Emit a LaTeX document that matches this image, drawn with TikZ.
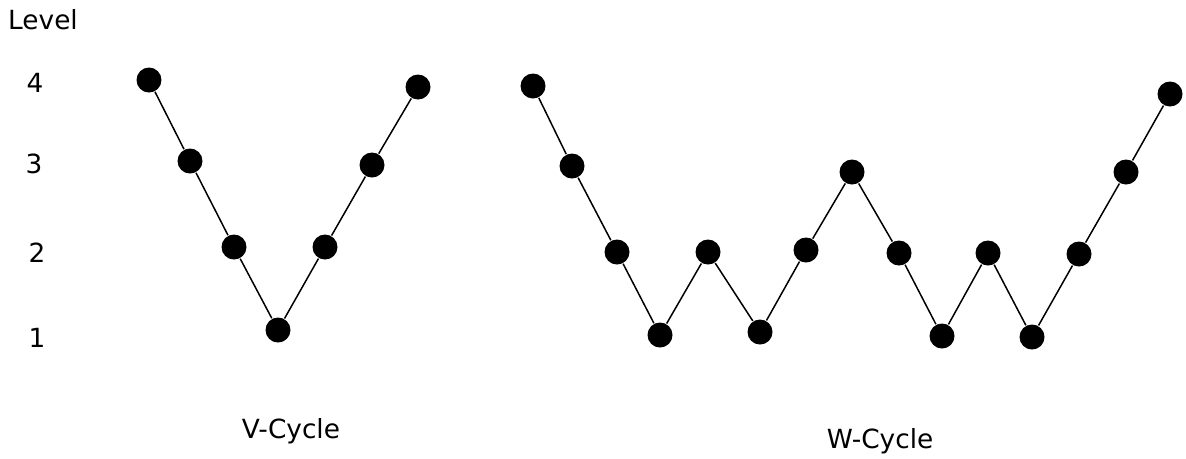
\documentclass[tikz,border=0pt]{standalone}
\usepackage{fontspec}
\setmainfont{DejaVu Sans}
\usetikzlibrary{positioning}

\begin{document}
\begin{tikzpicture}[
  x=0.02cm, y=-0.02cm,
  dot/.style={circle,fill=black,inner sep=0pt,minimum size=0.5cm},
  lvl/.style={anchor=base},
  font=\fontsize{15}{18}\selectfont,
  line width=0.85pt
]
\useasboundingbox (0,0) rectangle (1186,458);
% level labels
\node[lvl] (level) at (43,29) {Level};
\node[lvl] (l4) at (35,92) {4};
\node[lvl] (l3) at (34,173) {3};
\node[lvl] (l2) at (37,262) {2};
\node[lvl] (l1) at (37,347) {1};
% V-cycle
\node[dot] (v1) at (149,80) {};
\node[dot] (v2) at (190,161) {};
\node[dot] (v3) at (234,247) {};
\node[dot] (v4) at (278,330) {};
\node[dot] (v5) at (325,247) {};
\node[dot] (v6) at (372,165) {};
\node[dot] (v7) at (418,87) {};
\draw (v1) -- (v2) -- (v3) -- (v4) -- (v5) -- (v6) -- (v7);
% W-cycle
\node[dot] (w1) at (533,86) {};
\node[dot] (w2) at (572,166) {};
\node[dot] (w3) at (617,252) {};
\node[dot] (w4) at (660,335) {};
\node[dot] (w5) at (708,252) {};
\node[dot] (w6) at (760,332) {};
\node[dot] (w7) at (806,250) {};
\node[dot] (w8) at (852,172) {};
\node[dot] (w9) at (899,253) {};
\node[dot] (w10) at (942,336) {};
\node[dot] (w11) at (988,253) {};
\node[dot] (w12) at (1032,337) {};
\node[dot] (w13) at (1079,254) {};
\node[dot] (w14) at (1126,172) {};
\node[dot] (w15) at (1170,94) {};
\draw (w1) -- (w2) -- (w3) -- (w4) -- (w5) -- (w6) -- (w7) -- (w8)
  -- (w9) -- (w10) -- (w11) -- (w12) -- (w13) -- (w14) -- (w15);
% captions
\node[lvl] (vname) at (291,438) {V-Cycle};
\node[lvl] (wname) at (880,448) {W-Cycle};
\end{tikzpicture}
\end{document}
